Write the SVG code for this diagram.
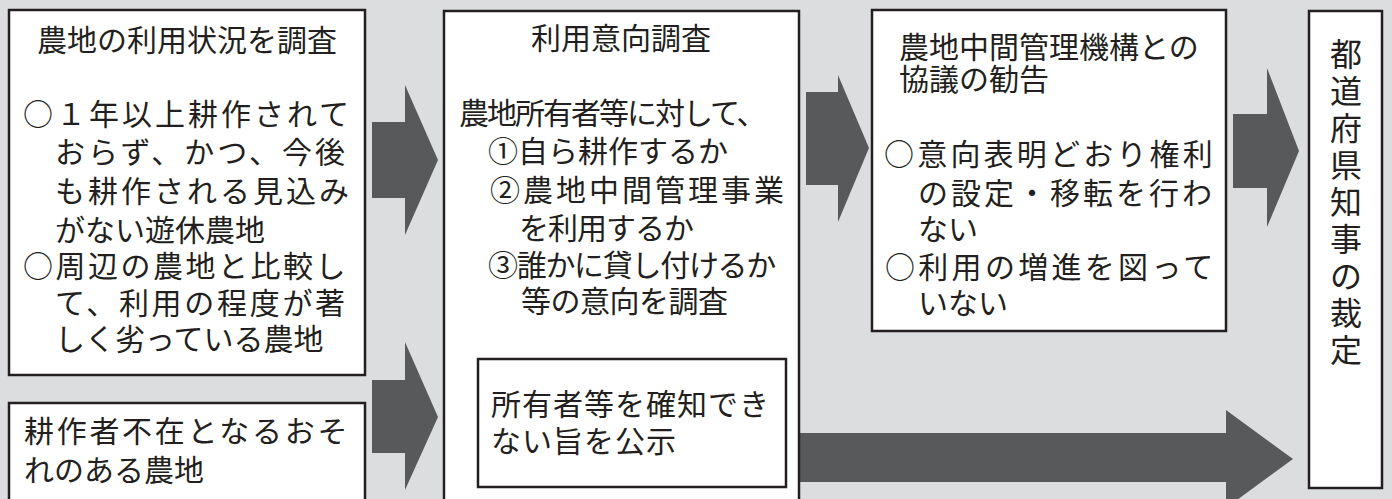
<svg xmlns="http://www.w3.org/2000/svg" width="1392" height="499" viewBox="0 0 1392 499">
<style>
.box{fill:#fff;stroke:#231f20;stroke-width:2.5}
.arr{fill:#58595b}
text{font-family:"Noto Sans CJK JP","Noto Sans CJK SC",sans-serif;font-size:30px;fill:#231f20}
.v{font-size:32px}
</style>
<rect width="1392" height="499" fill="#dcdddf"/>
<g id="connectors">
<polygon class="arr" points="372,122 405,122 405,85 438,160 405,235 405,198 372,198"/>
<polygon class="arr" points="372,380 405,380 405,342 438,417 405,490 405,453 372,453"/>
<polygon class="arr" points="806,92 838,92 838,75 869,148 838,222 838,185 806,185"/>
<polygon class="arr" points="1233,114 1267,114 1267,68 1299,151 1267,227 1267,188 1233,188"/>
<polygon class="arr" points="793,433 1226,433 1226,410 1293,459 1226,508 1226,482 793,482"/>
</g>
<g id="node-survey">
<rect class="box" x="9" y="10" width="356" height="365"/>
<text x="187" y="51" text-anchor="middle">農地の利用状況を調査</text>
<text x="23" y="125" letter-spacing="3">○１年以上耕作されて</text>
<text x="55" y="163" letter-spacing="3">おらず、かつ、今後</text>
<text x="55" y="202" letter-spacing="3">も耕作される見込み</text>
<text x="55" y="241">がない遊休農地</text>
<text x="23" y="277" letter-spacing="2.5">○周辺の農地と比較し</text>
<text x="55" y="314" letter-spacing="2.7">て、利用の程度が著</text>
<text x="55" y="350">しく劣っている農地</text>
</g>
<g id="node-absent">
<rect class="box" x="9" y="403" width="356" height="110"/>
<text x="24" y="442" letter-spacing="2.7">耕作者不在となるおそ</text>
<text x="24" y="481">れのある農地</text>
</g>
<g id="node-intent">
<rect class="box" x="444" y="11" width="355" height="510"/>
<text x="621" y="49" text-anchor="middle">利用意向調査</text>
<text x="459" y="124" letter-spacing="-2">農地所有者等に対して、</text>
<text x="488" y="162">①自ら耕作するか</text>
<text x="490" y="201" letter-spacing="3">②農地中間管理事業</text>
<text x="519" y="239" letter-spacing="-1">を利用するか</text>
<text x="488" y="276" letter-spacing="-1.3">③誰かに貸し付けるか</text>
<text x="521" y="312" letter-spacing="-0.5">等の意向を調査</text>
</g>
<g id="node-unknown">
<rect class="box" x="478" y="359" width="308" height="128"/>
<text x="491" y="415" letter-spacing="1">所有者等を確知でき</text>
<text x="491" y="452" letter-spacing="1">ない旨を公示</text>
</g>
<g id="node-recommend">
<rect class="box" x="872" y="10" width="354" height="321"/>
<text x="899" y="58">農地中間管理機構との</text>
<text x="899" y="90">協議の勧告</text>
<text x="884" y="165" letter-spacing="3.2">○意向表明どおり権利</text>
<text x="918" y="204" letter-spacing="3">の設定・移転を行わ</text>
<text x="918" y="240">ない</text>
<text x="885" y="278" letter-spacing="3.3">○利用の増進を図って</text>
<text x="918" y="314">いない</text>
</g>
<g id="node-governor">
<rect class="box" x="1309" y="11" width="73" height="477"/>
<text class="v" text-anchor="middle" x="1346 1346 1346 1346 1346 1346 1346 1346 1346" y="66 103 140 177 214 251 288 325 362">都道府県知事の裁定</text>
</g>
</svg>
